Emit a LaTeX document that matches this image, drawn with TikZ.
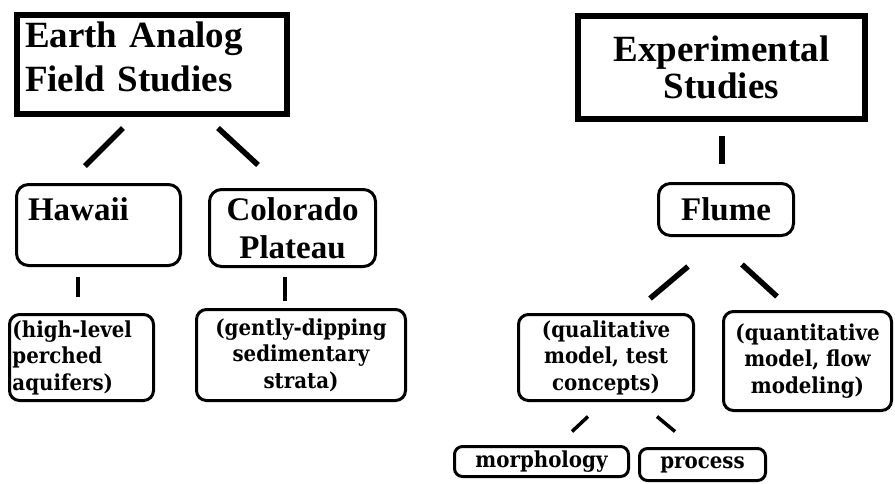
\documentclass[tikz,border=0pt]{standalone}
\usepackage{fontspec}
\setmainfont{Liberation Serif}
\newfontfamily\notefont[BoldFont={DejaVu Serif Condensed Bold}]{DejaVu Serif Condensed}
\usetikzlibrary{calc}

\begin{document}
\begin{tikzpicture}[x=1pt, y=-1pt,
  hbox/.style={rectangle, draw, line width=6pt, inner sep=0pt,
               font=\fontsize{37}{44}\selectfont\bfseries},
  sbox/.style={rectangle, draw, line width=3pt, rounded corners=12pt, inner sep=0pt,
               font=\fontsize{33}{38}\selectfont\bfseries, align=center},
  nbox/.style={rectangle, draw, line width=3pt, rounded corners=10pt, inner sep=0pt,
               font=\notefont\bfseries\fontsize{22}{26.5}\selectfont, align=center},
  link/.style={line width=5.5pt},
  slink/.style={line width=3.5pt}
]
\useasboundingbox (0,0) rectangle (895,483);

% Field studies side
\node[hbox, align=left, text width=254pt, inner xsep=8pt, text depth=59pt, minimum height=99pt] (earth) at (152,64.5) {Earth Analog\\Field Studies};
\node[sbox, minimum width=164pt, align=left, text width=141pt, inner xsep=11.5pt,
      text height=35.5pt, text depth=45.5pt] (hawaii) at (98.5,225) {Hawaii};
\node[sbox, minimum width=166pt, minimum height=77pt] (colorado) at (292.5,228) {Colorado\\Plateau};
\node[nbox, align=left, text width=138pt, inner xsep=3pt, minimum height=86pt] (perched) at (81.5,357.5) {(high-level\\perched\\aquifers)};
\node[nbox, minimum width=209pt, minimum height=91pt] (strata) at (301,355) {(gently-dipping\\sedimentary\\strata)};

% Experimental side
\node[hbox, align=center, minimum width=287pt, minimum height=103pt, font=\fontsize{37}{37}\selectfont\bfseries] (exper) at (721.5,67.5) {Experimental\\Studies};
\node[sbox, minimum width=135pt, minimum height=52pt] (flume) at (726,209.5) {Flume};
\node[nbox, minimum width=175pt, minimum height=86pt] (qual) at (606,357.5) {(qualitative\\model, test\\concepts)};
\node[nbox, minimum width=168pt, minimum height=99pt] (quant) at (807.5,361) {(quantitative\\model, flow\\modeling)};
\node[nbox, minimum width=174pt, minimum height=30pt, rounded corners=8pt] (morph) at (541.5,461.5) {morphology};
\node[nbox, minimum width=126pt, minimum height=32pt, rounded corners=8pt] (process) at (702.5,464.5) {process};

% Links
\draw[link] ([shift={(-29,11)}]earth.south) -- ([shift={(-13.5,-17)}]hawaii.north);
\draw[link] ([shift={(66,11)}]earth.south) -- ([shift={(-34.5,-23)}]colorado.north);
\draw[slink] ([shift={(-20.5,9.5)}]hawaii.south) -- ([shift={(-3.5,-16.5)}]perched.north);
\draw[slink] ([shift={(-7.5,8.5)}]colorado.south) -- ([shift={(-16,-7.5)}]strata.north);
\draw[link] ([shift={(0.5,14)}]exper.south) -- ([shift={(-4,-18.5)}]flume.north);
\draw[link] ([shift={(-38,29.5)}]flume.south) -- ([shift={(44,-14.5)}]qual.north);
\draw[link] ([shift={(16,27.5)}]flume.south) -- ([shift={(-30.5,-13.5)}]quant.north);
\draw[slink] ([shift={(-18,14.5)}]qual.south) -- ([shift={(30.5,-13.5)}]morph.north);
\draw[slink] ([shift={(51,14.5)}]qual.south) -- ([shift={(-27.5,-15.5)}]process.north);
\end{tikzpicture}
\end{document}
